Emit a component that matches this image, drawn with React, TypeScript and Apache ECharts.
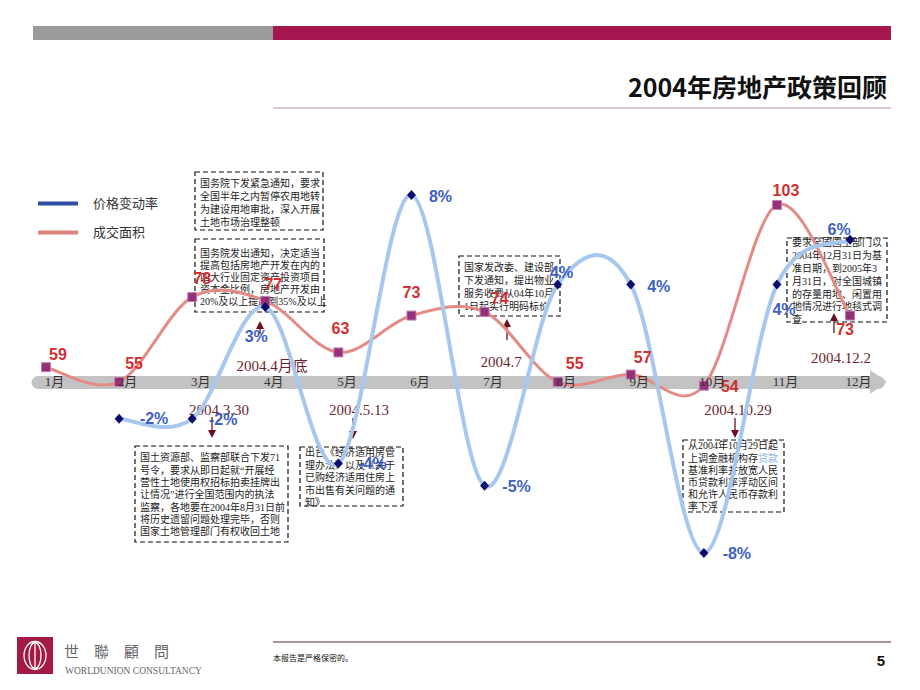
import React, { useEffect, useRef } from 'react';
import * as echarts from 'echarts';

const months = ['1月', '2月', '3月', '4月', '5月', '6月', '7月', '8月', '9月', '10月', '11月', '12月'];
const seriesNames = ['价格变动率', '成交面积'];
const priceValues: (number | null)[] = [null, -2, -2, 3, -4, 8, -5, 4, 4, -8, 4, 6];
const areaValues: (number | null)[] = [59, 55, 78, 77, 63, 73, 74, 55, 57, 54, 103, 73];

const titleText = '2004年房地产政策回顾';
const dateNotes = ['2004.3.30', '2004.4月底', '2004.5.13', '2004.7', '2004.10.29', '2004.12.2'];
const policyNotes = [
  ['国务院下发紧急通知，要求', '全国半年之内暂停农用地转', '为建设用地审批，深入开展', '土地市场治理整顿'],
  ['国务院发出通知，决定适当', '提高包括房地产开发在内的', '四大行业固定资产投资项目', '资本金比例，房地产开发由', '20%及以上提高到35%及以上'],
  ['国家发改委、建设部', '下发通知，提出物业', '服务收费从04年10月', '1日起实行明码标价'],
  ['要求全国国土部门以', '2004年12月31日为基', '准日期，到2005年3', '月31日，对全国城镇', '的存量用地、闲置用', '地情况进行地毯式调', '查'],
  ['国土资源部、监察部联合下发71', '号令，要求从即日起就“开展经', '营性土地使用权招标拍卖挂牌出', '让情况”进行全国范围内的执法', '监察，各地要在2004年8月31日前', '将历史遗留问题处理完毕，否则', '国家土地管理部门有权收回土地'],
  ['出台《经济适用房管', '理办法》以及《关于', '已购经济适用住房上', '市出售有关问题的通', '知》'],
  ['从2004年10月29日起', '上调金融机构存{link|贷款}', '基准利率并放宽人民', '币贷款利率浮动区间', '和允许人民币存款利', '率下浮'],
];
const footerNote = '本报告是严格保密的。';
const pageNumber = '5';
const brandCn = '世　聯　顧　問';
const brandEn = 'WORLDUNION CONSULTANCY';

// ---- layout / style (not data) ----
const SERIF = "'Liberation Serif', 'Noto Sans CJK SC', serif";
const SANS = "'Noto Sans CJK SC', 'Noto Sans', sans-serif";
const areaLabelOffsets = [[12, -13], [15, -18], [10, -19], [8, -16], [2, -24], [0, -23], [15, -13], [17, -18], [12, -17], [26, 1], [9, -14], [-5, 14]];
const priceLabelOffsets = [[0, 0], [35, 0], [31, 1], [-9, 30], [34, 0], [29, 1], [32, 1], [4, -12], [28, 2], [33, 1], [7, 25], [-11, -10]];
// box: x, y, w, h, first line centre, line height
const noteBoxes = [
  [195, 172, 128, 58, 184, 12.8],
  [195, 239, 129, 73, 253, 12],
  [459, 256, 101, 60, 267, 13],
  [787, 238, 100, 84, 243, 12.8],
  [135, 446, 153, 96, 458, 12.3],
  [300, 447, 103, 59, 453, 12.4],
  [683, 440, 101, 72, 446, 12.2],
];
const datePos = [[219, 410], [272, 366], [359, 410], [501, 362], [738, 410], [841, 358]];
// arrows: x, y from, y to
const arrowPos = [[212, 417, 438], [260, 334, 321], [353, 418, 439], [507, 340, 319], [735, 418, 438], [834, 333, 313]];

function buildGraphics() {
  const g: any[] = [];
  g.push({ type: 'rect', shape: { x: 33, y: 26, width: 240, height: 14 }, style: { fill: '#9b9b9b' } });
  g.push({ type: 'rect', shape: { x: 273, y: 26, width: 618, height: 14 }, style: { fill: '#a5164f' } });
  g.push({ type: 'line', shape: { x1: 273, y1: 108, x2: 891, y2: 108 }, style: { stroke: '#cfb0c6', lineWidth: 1.5 } });
  g.push({ type: 'line', shape: { x1: 273, y1: 642, x2: 891, y2: 642 }, style: { stroke: '#a8929e', lineWidth: 2 } });
  g.push({ type: 'text', x: 273, y: 657, style: { text: footerNote, fontSize: 8, fontFamily: SANS, fill: '#111', verticalAlign: 'middle' } });
  g.push({ type: 'text', x: 881, y: 660, style: { text: pageNumber, fontSize: 15, fontWeight: 'bold', fontFamily: 'Arial, Liberation Sans', fill: '#111', align: 'center', verticalAlign: 'middle' } });
  // logo
  g.push({ type: 'rect', shape: { x: 17, y: 637, width: 36, height: 37 }, style: { fill: '#a31a42' } });
  g.push({ type: 'ellipse', shape: { cx: 35, cy: 655.5, rx: 11, ry: 14 }, style: { fill: 'none', stroke: '#fff', lineWidth: 1.3 } });
  g.push({ type: 'ellipse', shape: { cx: 35, cy: 655.5, rx: 6, ry: 13 }, style: { fill: 'none', stroke: '#fff', lineWidth: 1.3 } });
  g.push({ type: 'line', shape: { x1: 35, y1: 643, x2: 35, y2: 668 }, style: { stroke: '#fff', lineWidth: 1.3 } });
  g.push({ type: 'text', x: 64, y: 650, style: { text: brandCn, fontSize: 15, fontFamily: "'Noto Sans CJK TC'", fill: '#666', verticalAlign: 'middle' } });
  g.push({ type: 'text', x: 65, y: 671, style: { text: brandEn, fontSize: 9.5, fontFamily: SERIF, fill: '#666', verticalAlign: 'middle' } });

  noteBoxes.forEach((b, i) => {
    const [x, y, w, h, c, lh] = b;
    g.push({ type: 'rect', shape: { x, y, width: w, height: h }, style: { fill: 'none', stroke: '#111', lineWidth: 1.2, lineDash: [5, 3] } });
    g.push({
      type: 'text', x: x + 5, y: c - lh / 2,
      style: {
        text: policyNotes[i].join('\n'), fontSize: 10, fontFamily: SERIF, fill: '#222', lineHeight: lh,
        align: 'left', verticalAlign: 'top',
        rich: { link: { fill: '#86b4e2', fontSize: 10, fontFamily: SERIF, lineHeight: lh } },
      },
    });
  });
  dateNotes.forEach((t, i) => {
    g.push({ type: 'text', x: datePos[i][0], y: datePos[i][1], style: { text: t, fontSize: 15, fontFamily: SERIF, fill: '#6e1f2d', align: 'center', verticalAlign: 'middle' } });
  });
  arrowPos.forEach(([x, y1, y2]) => {
    const dir = y2 > y1 ? 1 : -1;
    g.push({ type: 'line', shape: { x1: x, y1, x2: x, y2: y2 - dir * 6 }, style: { stroke: '#6a1020', lineWidth: 1.3 } });
    g.push({ type: 'polygon', shape: { points: [[x - 4, y2 - dir * 8], [x + 4, y2 - dir * 8], [x, y2]] }, style: { fill: '#6a1020' } });
  });
  return g;
}

// Excel-like smoothed curve (Catmull-Rom), drawn through the axes' own scales
function smoothCurveSeries(name: string, values: (number | null)[], yAxisIndex: number, color: string, width: number, z: number) {
  const valid = values.map((v, i) => (v == null ? -1 : i)).filter((i) => i >= 0);
  const first = valid[0];
  const last = valid[valid.length - 1];
  return {
    name, type: 'custom', xAxisIndex: 0, yAxisIndex, z, silent: true,
    data: values.map((v, i) => [i, v == null ? 0 : v]),
    renderItem: (params: any, api: any) => {
      const i = params.dataIndex;
      if (values[i] == null || i + 1 > last || values[i + 1] == null) return null;
      const P = (k: number) => {
        const kk = Math.min(Math.max(k, first), last);
        return api.coord([kk, values[kk]]);
      };
      const p0 = P(i - 1), p1 = P(i), p2 = P(i + 1), p3 = P(i + 2);
      const t = 1 / 6;
      return {
        type: 'bezierCurve',
        shape: {
          x1: p1[0], y1: p1[1], x2: p2[0], y2: p2[1],
          cpx1: p1[0] + (p2[0] - p0[0]) * t, cpy1: p1[1] + (p2[1] - p0[1]) * t,
          cpx2: p2[0] - (p3[0] - p1[0]) * t, cpy2: p2[1] - (p3[1] - p1[1]) * t,
        },
        style: { stroke: color, lineWidth: width, fill: 'none', lineCap: 'round' },
      };
    },
  };
}

function buildOption() {
  return {
    animation: false,
    backgroundColor: '#ffffff',
    title: {
      text: titleText, right: 33, top: 73, padding: 0,
      textStyle: { fontSize: 25, fontWeight: 'bold', color: '#111', fontFamily: SANS },
    },
    legend: {
      orient: 'vertical', left: 33, top: 192, itemWidth: 40, itemHeight: 4, itemGap: 16, icon: 'rect',
      selectedMode: false,
      data: [
        { name: seriesNames[0], itemStyle: { color: '#2b4ca3', borderWidth: 0 } },
        { name: seriesNames[1], itemStyle: { color: '#dc857d', borderWidth: 0 } },
      ],
      textStyle: { fontSize: 13, color: '#333', fontFamily: SERIF, padding: [0, 0, 0, 10] },
    },
    grid: [
      { left: 9.45, right: 33.4, top: 150.4, height: 447.2 },
      { left: 38, right: 41.5, top: 300, height: 82 },
    ],
    xAxis: [
      {
        gridIndex: 0, type: 'category', data: months, boundaryGap: true, position: 'bottom', offset: -215.6,
        axisLine: { show: false, onZero: false }, axisTick: { show: false },
        axisLabel: { margin: -7, padding: [0, 0, 0, 17], color: '#333', fontSize: 13, fontFamily: SERIF },
        z: 5,
      },
      {
        gridIndex: 1, type: 'value', min: 0, max: 1,
        axisLine: { show: true, onZero: false, symbol: ['none', 'triangle'], symbolSize: [24, 17], lineStyle: { color: '#c3c3c3', width: 13 } },
        axisTick: { show: false }, axisLabel: { show: false }, splitLine: { show: false },
      },
    ],
    yAxis: [
      { gridIndex: 0, type: 'value', min: -10, max: 10, show: false },
      { gridIndex: 0, type: 'value', min: -3.5, max: 117.8, show: false },
      { gridIndex: 1, type: 'value', min: 0, max: 1, show: false },
    ],
    series: [
      smoothCurveSeries(seriesNames[1], areaValues, 1, '#e58b85', 3, 2),
      smoothCurveSeries(seriesNames[0], priceValues, 0, '#a6c8ee', 4, 3),
      {
        name: seriesNames[1], type: 'line', xAxisIndex: 0, yAxisIndex: 1,
        data: areaValues.map((v, i) => ({ value: v, label: { offset: areaLabelOffsets[i] } })),
        symbol: 'rect', symbolSize: 9,
        lineStyle: { opacity: 0, width: 0 },
        itemStyle: { color: '#94307a', borderColor: '#c47fb0', borderWidth: 1 },
        label: { show: true, position: 'inside', color: '#d22f2f', fontSize: 16, fontWeight: 'bold', fontFamily: 'Arial, Liberation Sans' },
        z: 4,
      },
      {
        name: seriesNames[0], type: 'line', xAxisIndex: 0, yAxisIndex: 0,
        data: priceValues.map((v, i) => (v == null ? '-' : { value: v, label: { offset: priceLabelOffsets[i] } })),
        symbol: 'diamond', symbolSize: [9, 10],
        lineStyle: { opacity: 0, width: 0 },
        itemStyle: { color: '#0b0b6b' },
        label: { show: true, position: 'inside', formatter: (p: any) => p.value + '%', color: '#3d5fc2', fontSize: 16, fontWeight: 'bold', fontFamily: 'Arial, Liberation Sans' },
        z: 5,
      },
    ],
    graphic: buildGraphics(),
  };
}

export default function App() {
  const ref = useRef<HTMLDivElement>(null);
  useEffect(() => {
    const chart = echarts.init(ref.current!, null, { renderer: 'svg' });
    chart.setOption(buildOption() as any);
    return () => chart.dispose();
  }, []);
  return <div ref={ref} style={{ position: 'fixed', left: 0, top: 0, width: 920, height: 690, background: '#fff' }} />;
}
